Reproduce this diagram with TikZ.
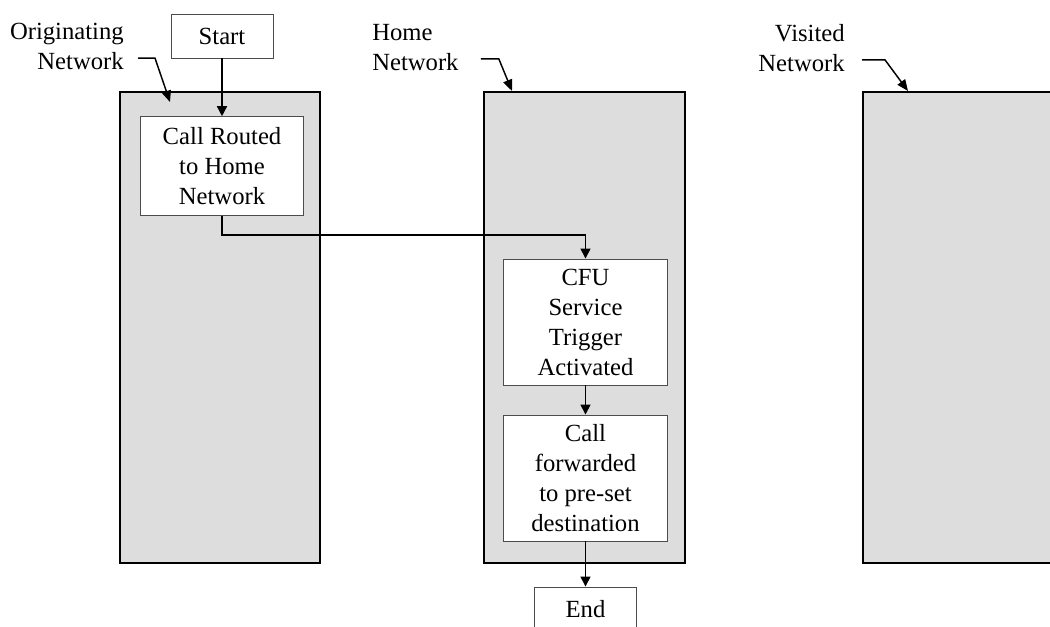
\documentclass[tikz,border=0pt]{standalone}
\usepackage{fontspec}
\setmainfont{Liberation Serif}
\usetikzlibrary{arrows.meta}
\definecolor{netgray}{HTML}{DDDDDD}
\begin{document}
\begin{tikzpicture}[x=0.75pt, y=-0.75pt,
                    every node/.style={font=\fontsize{18.5}{22.5}\selectfont}]
        \tikzset{network/.style={draw=black, line width=1.4pt, fill=netgray},
                 stepbox/.style={draw=black!70, line width=0.7pt, fill=white,
                                 align=center, inner sep=0pt},
                 netlabel/.style={inner sep=0pt},
                 flow/.style={line width=1.1pt, -{Triangle[length=7.5pt, width=7.5pt]}},
                 pointer/.style={line width=1.1pt, -{Triangle[length=8.5pt, width=7pt]}}}
        \clip (0,0) rectangle (1050,626);

        \draw[network] (120,92) rectangle (320,563);
        \draw[network] (484,92) rectangle (685,563);
        \draw[network] (863,92) rectangle (1060,563);

        \node[netlabel, align=right, anchor=north east] (origlbl)
             at (124,23) {Originating\\Network};
        \node[netlabel, align=left, anchor=north west] (homelbl)
             at (372,24) {Home\\Network};
        \node[netlabel, align=right, anchor=north east] (vislbl)
             at (845,24) {Visited\\Network};

        \coordinate (origtip) at (170,102);
        \coordinate (hometip) at (512,91);
        \coordinate (vistip) at (908,91);

        \draw[pointer] ([xshift=10.5pt, yshift=9pt]origlbl.south east)
                       -- ++(17,0) -- (origtip);
        \draw[pointer] ([xshift=16.5pt, yshift=9pt]homelbl.south east)
                       -- ++(18,0) -- (hometip);
        \draw[pointer] ([xshift=12.75pt, yshift=9pt]vislbl.south east)
                       -- ++(23,0) -- (vistip);

        \node[stepbox, minimum width=76.5pt, minimum height=33pt] (start)
             at (222,36) {Start};
        \node[stepbox, minimum width=122pt, minimum height=74pt] (route)
             at (222,166) {Call Routed\\to Home\\Network};
        \node[stepbox, minimum width=123pt, minimum height=94.5pt] (cfu)
             at (585.5,322) {CFU\\Service\\Trigger\\Activated};
        \node[stepbox, minimum width=123pt, minimum height=94.5pt] (fwd)
             at (585.5,478) {Call\\forwarded\\to pre-set\\destination};
        \node[stepbox, minimum width=77pt, minimum height=33pt] (finish)
             at (585.5,609) {End};

        \draw[flow] (start) -- (route);
        \draw[flow] (route.south) -- ++(0,19) -| (cfu.north);
        \draw[flow] (cfu) -- (fwd);
        \draw[flow] (fwd) -- (finish);
\end{tikzpicture}
\end{document}
